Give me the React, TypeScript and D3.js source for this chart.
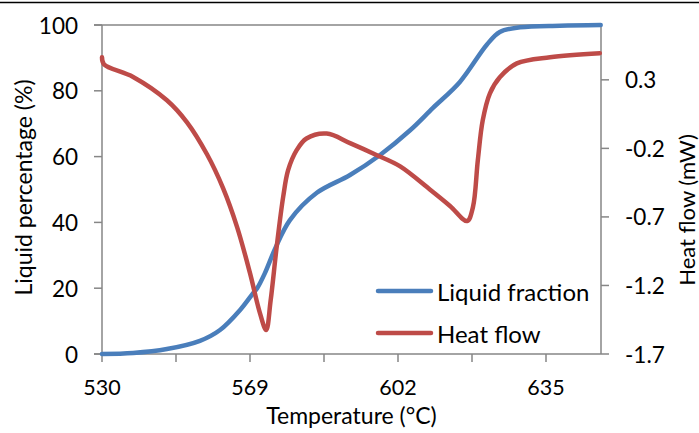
import React from "react";
import * as d3 from "d3";

// temperatures (°C) and liquid fraction (%)
const liquidTemps = [530, 538.2, 547.1, 555.8, 561.1, 566.4, 569.7, 570.6, 572.3, 574.6, 577.9, 583.9, 591.3, 598.0, 604.7, 609.8, 615.8, 621.8, 624.7, 629.2, 638.1, 647.2];
const liquidPct = [0, 0.3, 1.5, 4, 7.3, 13.4, 18.5, 20, 24.5, 32, 40.7, 49, 54.4, 60.5, 68, 74.8, 82.7, 94, 97.9, 99.3, 99.8, 100];

// temperatures (°C) and heat flow (mW)
const heatTemps = [530, 530.5, 538.2, 547.1, 552.4, 557.7, 561.9, 565.6, 569.0, 571.2, 572.6, 573.6, 574.95, 576.4, 577.5, 579.4, 581.6, 586.1, 591.3, 597.3, 602.4, 609.1, 613.6, 617.4, 618.7, 619.8, 620.9, 622.5, 624.7, 628.5, 635.9, 647.0];
const heatFlow = [0.465, 0.414, 0.321, 0.151, -0.01, -0.245, -0.49, -0.774, -1.11, -1.40, -1.525, -1.31, -0.918, -0.553, -0.359, -0.213, -0.128, -0.092, -0.162, -0.25, -0.33, -0.50, -0.62, -0.73, -0.63, -0.286, 0.006, 0.202, 0.319, 0.42, 0.465, 0.494];

const xTickTemps = [530, 549.5, 569, 585.5, 602, 618.5, 635];
const xTickLabels = ["530", "", "569", "", "602", "", "635"];
const leftTicks = [0, 20, 40, 60, 80, 100];
const rightTicks = [-1.7, -1.2, -0.7, -0.2, 0.3];

const W = 699, H = 433;
const L = 102, R = 601, T = 25, B = 354;
const step = 74;
const font = "Lato, 'Open Sans', sans-serif";
const axisColor = "#868686";
const blue = "#4a7ebb";
const red = "#be4b48";

export default function App() {
  const x = d3.scaleLinear()
    .domain([530, 569, 602, 635, 635 + (R - (L + 6 * step)) / (2 * step) * 33])
    .range([L, L + 2 * step, L + 4 * step, L + 6 * step, R]);
  const yL = d3.scaleLinear().domain([0, 100]).range([B, T]);
  const yR = d3.scaleLinear().domain([-1.7, 0.7]).range([B, T]);

  const liquidLine = d3.line<number>()
    .x((d, i) => x(liquidTemps[i]))
    .y(d => yL(d))
    .curve(d3.curveCatmullRom.alpha(0.5));
  const heatLine = d3.line<number>()
    .x((d, i) => x(heatTemps[i]))
    .y(d => yR(d))
    .curve(d3.curveCatmullRom.alpha(0.5));

  return (
    <svg width={W} height={H} style={{ position: "absolute", left: 0, top: 0, background: "#fff" }} fontFamily={font}>
      <line x1={0} x2={W} y1={2.5} y2={2.5} stroke="#000" strokeWidth={1.5} />

      {/* top gridline */}
      <line x1={L - 8} x2={R} y1={yL(100)} y2={yL(100)} stroke={axisColor} strokeWidth={1.5} />

      {/* left axis */}
      <line x1={L} x2={L} y1={T} y2={B} stroke={axisColor} strokeWidth={1.5} />
      {leftTicks.map(t => (
        <g key={"l" + t}>
          <line x1={L - 8} x2={L} y1={yL(t)} y2={yL(t)} stroke={axisColor} strokeWidth={1.5} />
          <text x={78} y={yL(t)} textAnchor="end" dominantBaseline="central" fontSize={22.5} fill="#000">{t}</text>
        </g>
      ))}

      {/* right axis */}
      <line x1={R} x2={R} y1={T} y2={B} stroke={axisColor} strokeWidth={1.5} />
      {rightTicks.map(t => (
        <g key={"r" + t}>
          <line x1={R} x2={R + 8} y1={yR(t)} y2={yR(t)} stroke={axisColor} strokeWidth={1.5} />
          <text x={625} y={yR(t)} textAnchor="start" dominantBaseline="central" fontSize={22.5} fill="#000">{t.toFixed(1)}</text>
        </g>
      ))}

      {/* bottom axis */}
      <line x1={L - 8} x2={R} y1={B} y2={B} stroke={axisColor} strokeWidth={1.5} />
      {xTickTemps.map((t, i) => (
        <g key={"x" + t}>
          <line x1={x(t)} x2={x(t)} y1={B} y2={B + 8} stroke={axisColor} strokeWidth={1.5} />
          {xTickLabels[i] && (
            <text x={x(t)} y={395} textAnchor="middle" fontSize={21.5} fill="#000">{xTickLabels[i]}</text>
          )}
        </g>
      ))}

      {/* series */}
      <path d={liquidLine(liquidPct) || ""} fill="none" stroke={blue} strokeWidth={4.5} strokeLinejoin="round" strokeLinecap="round" />
      <path d={heatLine(heatFlow) || ""} fill="none" stroke={red} strokeWidth={4.5} strokeLinejoin="round" strokeLinecap="round" />

      {/* axis titles */}
      <text x={(L + R) / 2} y={424} textAnchor="middle" fontSize={23} fill="#000">Temperature (°C)</text>
      <text transform={`translate(23,${(T + B) / 2 - 2}) rotate(-90)`} textAnchor="middle" dominantBaseline="central" fontSize={23} fill="#000">Liquid percentage (%)</text>
      <text transform={`translate(686,210) rotate(-90)`} textAnchor="middle" dominantBaseline="central" fontSize={22} fill="#000">Heat flow (mW)</text>

      {/* legend */}
      <line x1={378} x2={431} y1={291} y2={291} stroke={blue} strokeWidth={4.5} strokeLinecap="round" />
      <text x={437} y={291} dominantBaseline="central" fontSize={24} fill="#000">Liquid fraction</text>
      <line x1={378} x2={431} y1={333} y2={333} stroke={red} strokeWidth={4.5} strokeLinecap="round" />
      <text x={437} y={333} dominantBaseline="central" fontSize={24} fill="#000">Heat flow</text>
    </svg>
  );
}
